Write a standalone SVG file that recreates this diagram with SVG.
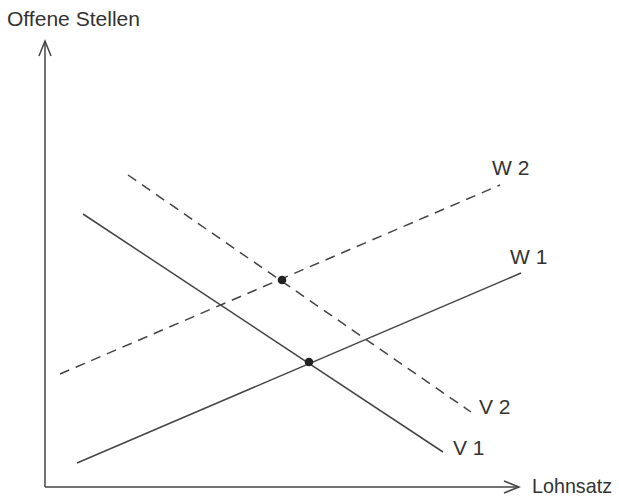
<svg xmlns="http://www.w3.org/2000/svg" width="619" height="497" viewBox="0 0 619 497">
<style>
.ln{stroke:#444;stroke-width:1.5;fill:none}
.d{stroke-dasharray:10 7}
.t{font-family:"Liberation Sans",Arial,sans-serif;font-size:21px;fill:#333}
.ah{stroke:#444;stroke-width:1.5;fill:none}
</style>
<rect width="619" height="497" fill="#fff"/>
<g id="axes">
<line class="ln" x1="45" y1="487" x2="45" y2="41"/>
<polyline class="ah" points="39,56 45,41 51,56"/>
<line class="ln" x1="45" y1="487" x2="519" y2="487"/>
<polyline class="ah" points="504,481 519,487 504,493"/>
<text class="t" x="7" y="26" textLength="133" lengthAdjust="spacingAndGlyphs">Offene Stellen</text>
<text class="t" x="532" y="493" textLength="80" lengthAdjust="spacingAndGlyphs">Lohnsatz</text>
</g>
<g id="connectors">
<line id="V1" class="ln" x1="83" y1="214" x2="443" y2="452"/>
<line id="V2" class="ln d" x1="128" y1="175" x2="471" y2="412"/>
<line id="W1" class="ln" x1="77" y1="463" x2="521" y2="273"/>
<line id="W2" class="ln d" x1="60" y1="374" x2="500" y2="185"/>
</g>
<g id="labels">
<text class="t" x="453" y="455">V 1</text>
<text class="t" x="479" y="414">V 2</text>
<text class="t" x="510" y="264">W 1</text>
<text class="t" x="492" y="175">W 2</text>
</g>
<g id="points" fill="#222">
<circle cx="282" cy="280" r="4.3"/>
<circle cx="309" cy="362" r="4.3"/>
</g>
</svg>
